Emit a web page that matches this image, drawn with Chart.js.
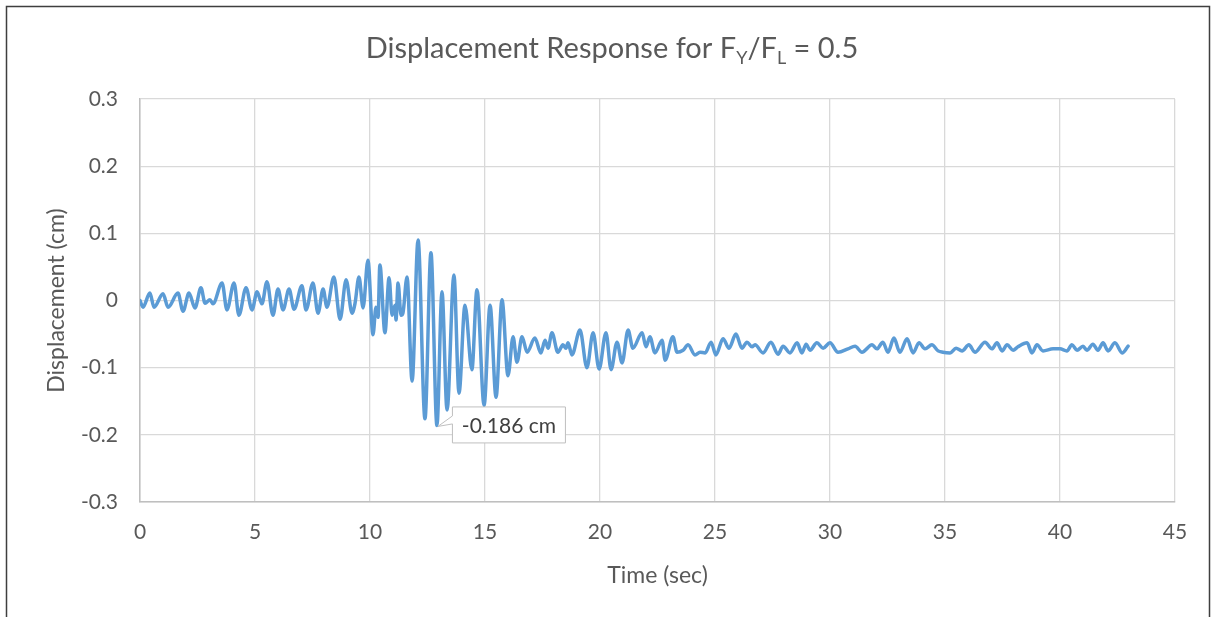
<!DOCTYPE html>
<html lang="en">
<head>
  <meta charset="UTF-8">
  <title>Displacement Response</title>
  <script src="https://cdn.jsdelivr.net/npm/chart.js"></script>
  <style>
    body { margin: 0; background: #fff; }
    canvas { display: block; }
  </style>
</head>
<body>
  <canvas id="chart" width="1213" height="617"></canvas>
  <script>
    const times = [0, 0.13, 0.43, 0.61, 1.00, 1.22, 1.65, 1.87, 2.13, 2.39, 2.65, 2.83, 3.04, 3.17, 3.57, 3.78, 4.09, 4.30, 4.61, 4.87,
      5.09, 5.30, 5.52, 5.78, 6.00, 6.22, 6.48, 6.70, 7.04, 7.22, 7.52, 7.74, 7.96, 8.13, 8.43, 8.70, 8.96, 9.22, 9.35, 9.52, 9.70,
      9.91, 10.13, 10.26, 10.35, 10.43, 10.65, 10.83, 10.96, 11.09, 11.13, 11.22, 11.35, 11.43, 11.61, 11.83, 12.09, 12.39, 12.65,
      12.91, 13.13, 13.35, 13.65, 13.87, 14.13, 14.43, 14.65, 14.96, 15.22, 15.48, 15.74, 16.00, 16.22, 16.39, 16.61, 16.83, 17.17,
      17.43, 17.61, 17.74, 17.91, 18.17, 18.39, 18.52, 18.61, 18.78, 19.13, 19.43, 19.70, 19.96, 20.26, 20.48, 20.74, 20.96, 21.22,
      21.43, 21.83, 22.00, 22.17, 22.39, 22.70, 22.83, 23.17, 23.35, 23.61, 23.83, 24.13, 24.35, 24.57, 24.83, 25.04, 25.35, 25.61,
      25.91, 26.17, 26.39, 26.61, 26.74, 27.09, 27.43, 27.74, 27.96, 28.26, 28.57, 28.78, 28.96, 29.13, 29.43, 29.70, 30.00, 30.35,
      30.78, 31.09, 31.39, 31.83, 32.04, 32.30, 32.52, 32.78, 33.04, 33.35, 33.61, 33.87, 34.13, 34.43, 34.70, 34.91, 35.22, 35.48,
      35.74, 36.04, 36.30, 36.74, 37.04, 37.26, 37.48, 37.70, 37.96, 38.17, 38.57, 38.78, 39.00, 39.26, 39.70, 40.00, 40.30, 40.52,
      40.74, 41.00, 41.17, 41.43, 41.65, 41.87, 42.09, 42.39, 42.70, 42.96];
    const disp = [0, -0.010, 0.011, -0.010, 0.010, -0.010, 0.011, -0.016, 0.011, -0.011, 0.019, -0.004, 0.001, -0.005, 0.026, -0.014, 0.026, -0.022, 0.019, -0.014,
      0.013, -0.005, 0.028, -0.022, 0.017, -0.014, 0.017, -0.013, 0.022, -0.014, 0.026, -0.019, 0.017, -0.010, 0.035, -0.028, 0.031, -0.019, -0.004, 0.035, -0.011,
      0.060, -0.051, -0.010, -0.025, 0.053, -0.048, 0.034, -0.022, -0.007, -0.029, 0.026, -0.022, -0.019, 0.035, -0.120, 0.090, -0.176, 0.071,
      -0.186, 0.013, -0.163, 0.038, -0.138, -0.007, -0.103, 0.016, -0.156, -0.007, -0.144, 0.001, -0.112, -0.054, -0.092, -0.054, -0.077, -0.056,
      -0.078, -0.059, -0.071, -0.048, -0.077, -0.066, -0.071, -0.063, -0.081, -0.044, -0.100, -0.048, -0.102, -0.048, -0.103, -0.062, -0.093, -0.044,
      -0.071, -0.048, -0.069, -0.054, -0.078, -0.059, -0.089, -0.054, -0.077, -0.074, -0.066, -0.081, -0.077, -0.078, -0.062, -0.081, -0.057, -0.071,
      -0.050, -0.071, -0.062, -0.069, -0.066, -0.078, -0.062, -0.080, -0.068, -0.078, -0.063, -0.078, -0.065, -0.074, -0.063, -0.071, -0.063, -0.077,
      -0.072, -0.068, -0.077, -0.066, -0.072, -0.062, -0.077, -0.056, -0.077, -0.057, -0.078, -0.063, -0.072, -0.066, -0.075, -0.077, -0.078, -0.071,
      -0.075, -0.066, -0.077, -0.062, -0.072, -0.063, -0.075, -0.066, -0.074, -0.069, -0.063, -0.078, -0.066, -0.075, -0.072, -0.072, -0.075, -0.066,
      -0.074, -0.068, -0.074, -0.065, -0.074, -0.063, -0.075, -0.063, -0.078, -0.068];

    const xMin = 0, xMax = 45, xStep = 5;
    const yMin = -0.3, yMax = 0.3, yStep = 0.1;
    const titleParts = [['Displacement Response for F', false], ['Y', true], ['/F', false], ['L', true], [' = 0.5', false]];
    const peakLabel = '-0.186 cm';

    const FONT = 'Lato, "Open Sans", sans-serif';
    const GREY = '#595959';

    // title with subscripts, outer frame, and the callout on the minimum
    const extras = {
      id: 'extras',
      afterDraw(chart) {
        const ctx = chart.ctx;
        ctx.save();
        // frame
        ctx.strokeStyle = '#3f3f3f';
        ctx.lineWidth = 1.5;
        ctx.beginPath();
        ctx.moveTo(6.5, 617);
        ctx.lineTo(6.5, 6.5);
        ctx.lineTo(1209.5, 6.5);
        ctx.lineTo(1209.5, 617);
        ctx.stroke();

        // title
        const big = '29px ' + FONT, small = '18px ' + FONT;
        let w = 0;
        titleParts.forEach(([t, sub]) => { ctx.font = sub ? small : big; w += ctx.measureText(t).width; });
        let x = 612 - w / 2;
        ctx.fillStyle = GREY;
        ctx.textBaseline = 'alphabetic';
        titleParts.forEach(([t, sub]) => {
          ctx.font = sub ? small : big;
          ctx.fillText(t, x, sub ? 64 : 58);
          x += ctx.measureText(t).width;
        });

        // callout at minimum point
        let idx = 0;
        disp.forEach((v, i) => { if (v < disp[idx]) idx = i; });
        const px = chart.scales.x.getPixelForValue(times[idx]);
        const py = chart.scales.y.getPixelForValue(disp[idx]);
        const L = px + 15.5, T = py - 18.5, W = 113, H = 36;
        ctx.beginPath();
        ctx.moveTo(L, T);
        ctx.lineTo(L + W, T);
        ctx.lineTo(L + W, T + H);
        ctx.lineTo(L, T + H);
        ctx.lineTo(L, T + 17);
        ctx.lineTo(px + 1, py + 1);
        ctx.lineTo(L, T + 9);
        ctx.closePath();
        ctx.fillStyle = '#fff';
        ctx.fill();
        ctx.strokeStyle = '#bfbfbf';
        ctx.lineWidth = 1;
        ctx.stroke();
        ctx.fillStyle = '#404040';
        ctx.font = '21px ' + FONT;
        ctx.textAlign = 'center';
        ctx.textBaseline = 'middle';
        ctx.fillText(peakLabel, L + W / 2, T + H / 2 + 1);
        ctx.restore();
      }
    };

    new Chart(document.getElementById('chart'), {
      type: 'line',
      data: {
        datasets: [{
          data: times.map((t, i) => ({ x: t, y: disp[i] })),
          borderColor: '#5b9bd5',
          borderWidth: 3.5,
          pointRadius: 0,
          cubicInterpolationMode: 'monotone',
          borderCapStyle: 'round',
          borderJoinStyle: 'round'
        }]
      },
      options: {
        responsive: false,
        animation: false,
        layout: { padding: { top: 99, right: 38, left: 0, bottom: 0 } },
        plugins: { legend: { display: false }, tooltip: { enabled: false } },
        scales: {
          x: {
            type: 'linear',
            min: xMin, max: xMax,
            ticks: { stepSize: xStep, color: GREY, font: { family: FONT, size: 21 }, padding: 18 },
            grid: { color: '#d9d9d9', lineWidth: 1.3, drawTicks: false },
            border: { color: '#bfbfbf', width: 1.5 },
            title: { display: true, text: 'Time (sec)', color: GREY, font: { family: FONT, size: 23 }, padding: { top: 0, bottom: 28 } },
            afterFit(s) { s.height = 115; }
          },
          y: {
            min: yMin, max: yMax,
            ticks: {
              stepSize: yStep, color: GREY, font: { family: FONT, size: 21 }, padding: 22,
              callback: v => String(Math.round(v * 10) / 10)
            },
            grid: { color: '#d9d9d9', lineWidth: 1.3, drawTicks: false },
            border: { color: '#bfbfbf', width: 1.5 },
            title: { display: true, text: 'Displacement (cm)', color: GREY, font: { family: FONT, size: 23 }, padding: { top: 43, bottom: 0 } },
            afterFit(s) { s.width = 140; }
          }
        }
      },
      plugins: [extras]
    });
  </script>
</body>
</html>
